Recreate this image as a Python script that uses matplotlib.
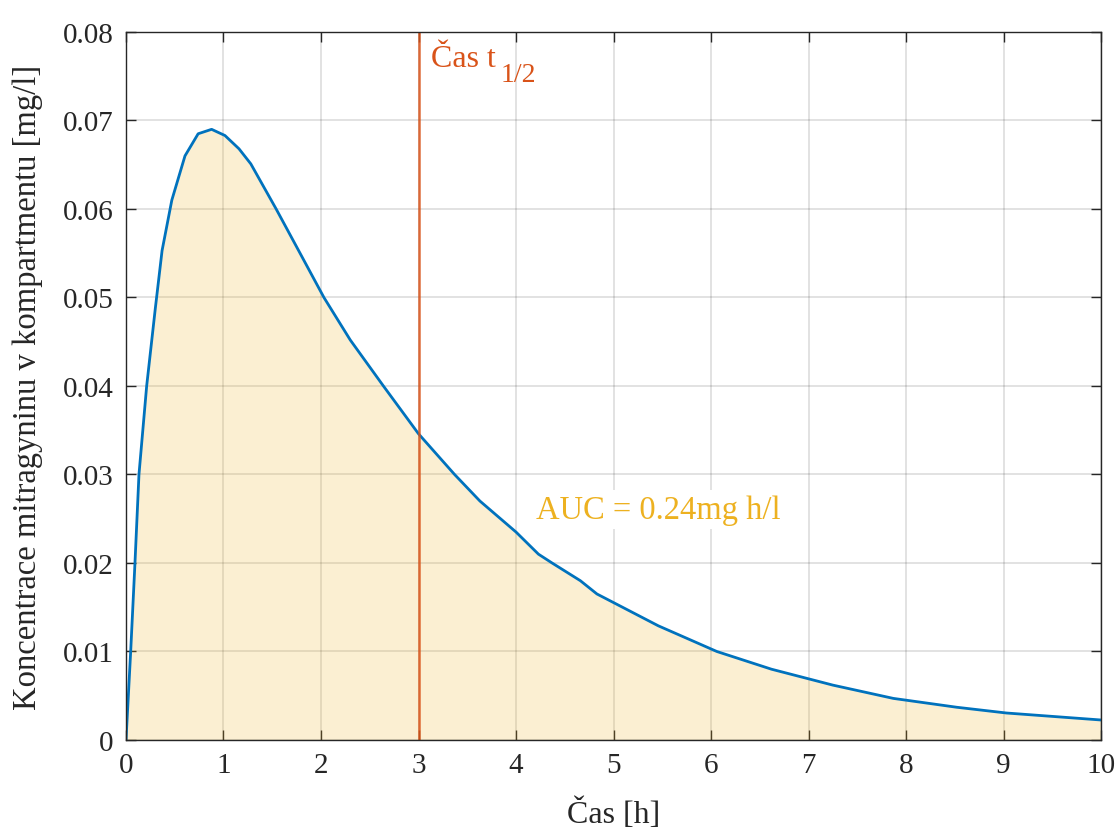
import matplotlib
matplotlib.use("Agg")
import matplotlib.pyplot as plt
import numpy as np

# Data
time_h = [0, 0.048, 0.092, 0.133, 0.212, 0.30, 0.37, 0.47, 0.605, 0.74, 0.878,
          1.015, 1.159, 1.28, 1.54, 1.80, 2.03, 2.30, 2.64, 3.0, 3.37, 3.63,
          4.0, 4.23, 4.37, 4.66, 4.83, 5.46, 6.06, 6.62, 7.25, 7.87, 8.52,
          9.03, 10.0]
conc = [0, 0.010, 0.020, 0.030, 0.040, 0.0487, 0.0553, 0.061, 0.066, 0.0685,
        0.069, 0.0683, 0.0668, 0.0651, 0.060, 0.0547, 0.050, 0.0452, 0.040,
        0.0346, 0.030, 0.027, 0.0235, 0.021, 0.020, 0.018, 0.0165, 0.0129,
        0.010, 0.0080, 0.0062, 0.0047, 0.0037, 0.00305, 0.00226]
t_half = 3
auc_label = "AUC = 0.24mg h/l"
x_ticks = list(range(0, 11))
y_ticks = [0, 0.01, 0.02, 0.03, 0.04, 0.05, 0.06, 0.07, 0.08]
y_tick_labels = ["0", "0.01", "0.02", "0.03", "0.04", "0.05", "0.06", "0.07", "0.08"]

plt.rcParams['font.family'] = ['Liberation Serif', 'DejaVu Serif']

fig = plt.figure(figsize=(11.18, 8.37), dpi=100)
ax = fig.add_axes([0.1127, 0.1147, 0.9848 - 0.1127, 0.9606 - 0.1147])

ax.grid(True, color=(0.15, 0.15, 0.15), alpha=0.15, linewidth=1.3)
ax.set_axisbelow(True)

ax.fill_between(time_h, conc, 0, color='#EDB120', alpha=0.2, linewidth=0, zorder=2)
ax.plot(time_h, conc, color='#0072BD', linewidth=2.0, zorder=3)
ax.axvline(t_half, color='#D95319', alpha=0.85, linewidth=1.8, zorder=4)

ax.annotate('Čas t', xy=(t_half, 0.0765), xytext=(9, 3), textcoords='offset points',
            color='#D95319', fontsize=23, ha='left', va='center', zorder=5)
ax.annotate('1/2', xy=(t_half, 0.0765), xytext=(59, -8), textcoords='offset points',
            color='#D95319', fontsize=20, ha='left', va='center', zorder=5)
ax.text(4.2, 0.026, auc_label, color='#EDB120', fontsize=23.5, ha='left',
        va='center', zorder=5,
        bbox=dict(facecolor='white', edgecolor='none', pad=3))

ax.set_xlim(0, 10)
ax.set_ylim(0, 0.08)
ax.set_xticks(x_ticks)
ax.set_yticks(y_ticks)
ax.set_yticklabels(y_tick_labels)
ax.tick_params(direction='in', length=7, width=1, top=True, right=True,
               labelsize=21, colors='#262626', pad=9)
for s in ax.spines.values():
    s.set_color('#262626')
    s.set_linewidth(1)
    s.set_zorder(6)

ax.set_xlabel('Čas [h]', fontsize=23, color='#262626', labelpad=14)
ax.set_ylabel('Koncentrace mitragyninu v kompartmentu [mg/l]', fontsize=23.5,
              color='#262626', labelpad=14)

fig.savefig('out.png', dpi=100)
